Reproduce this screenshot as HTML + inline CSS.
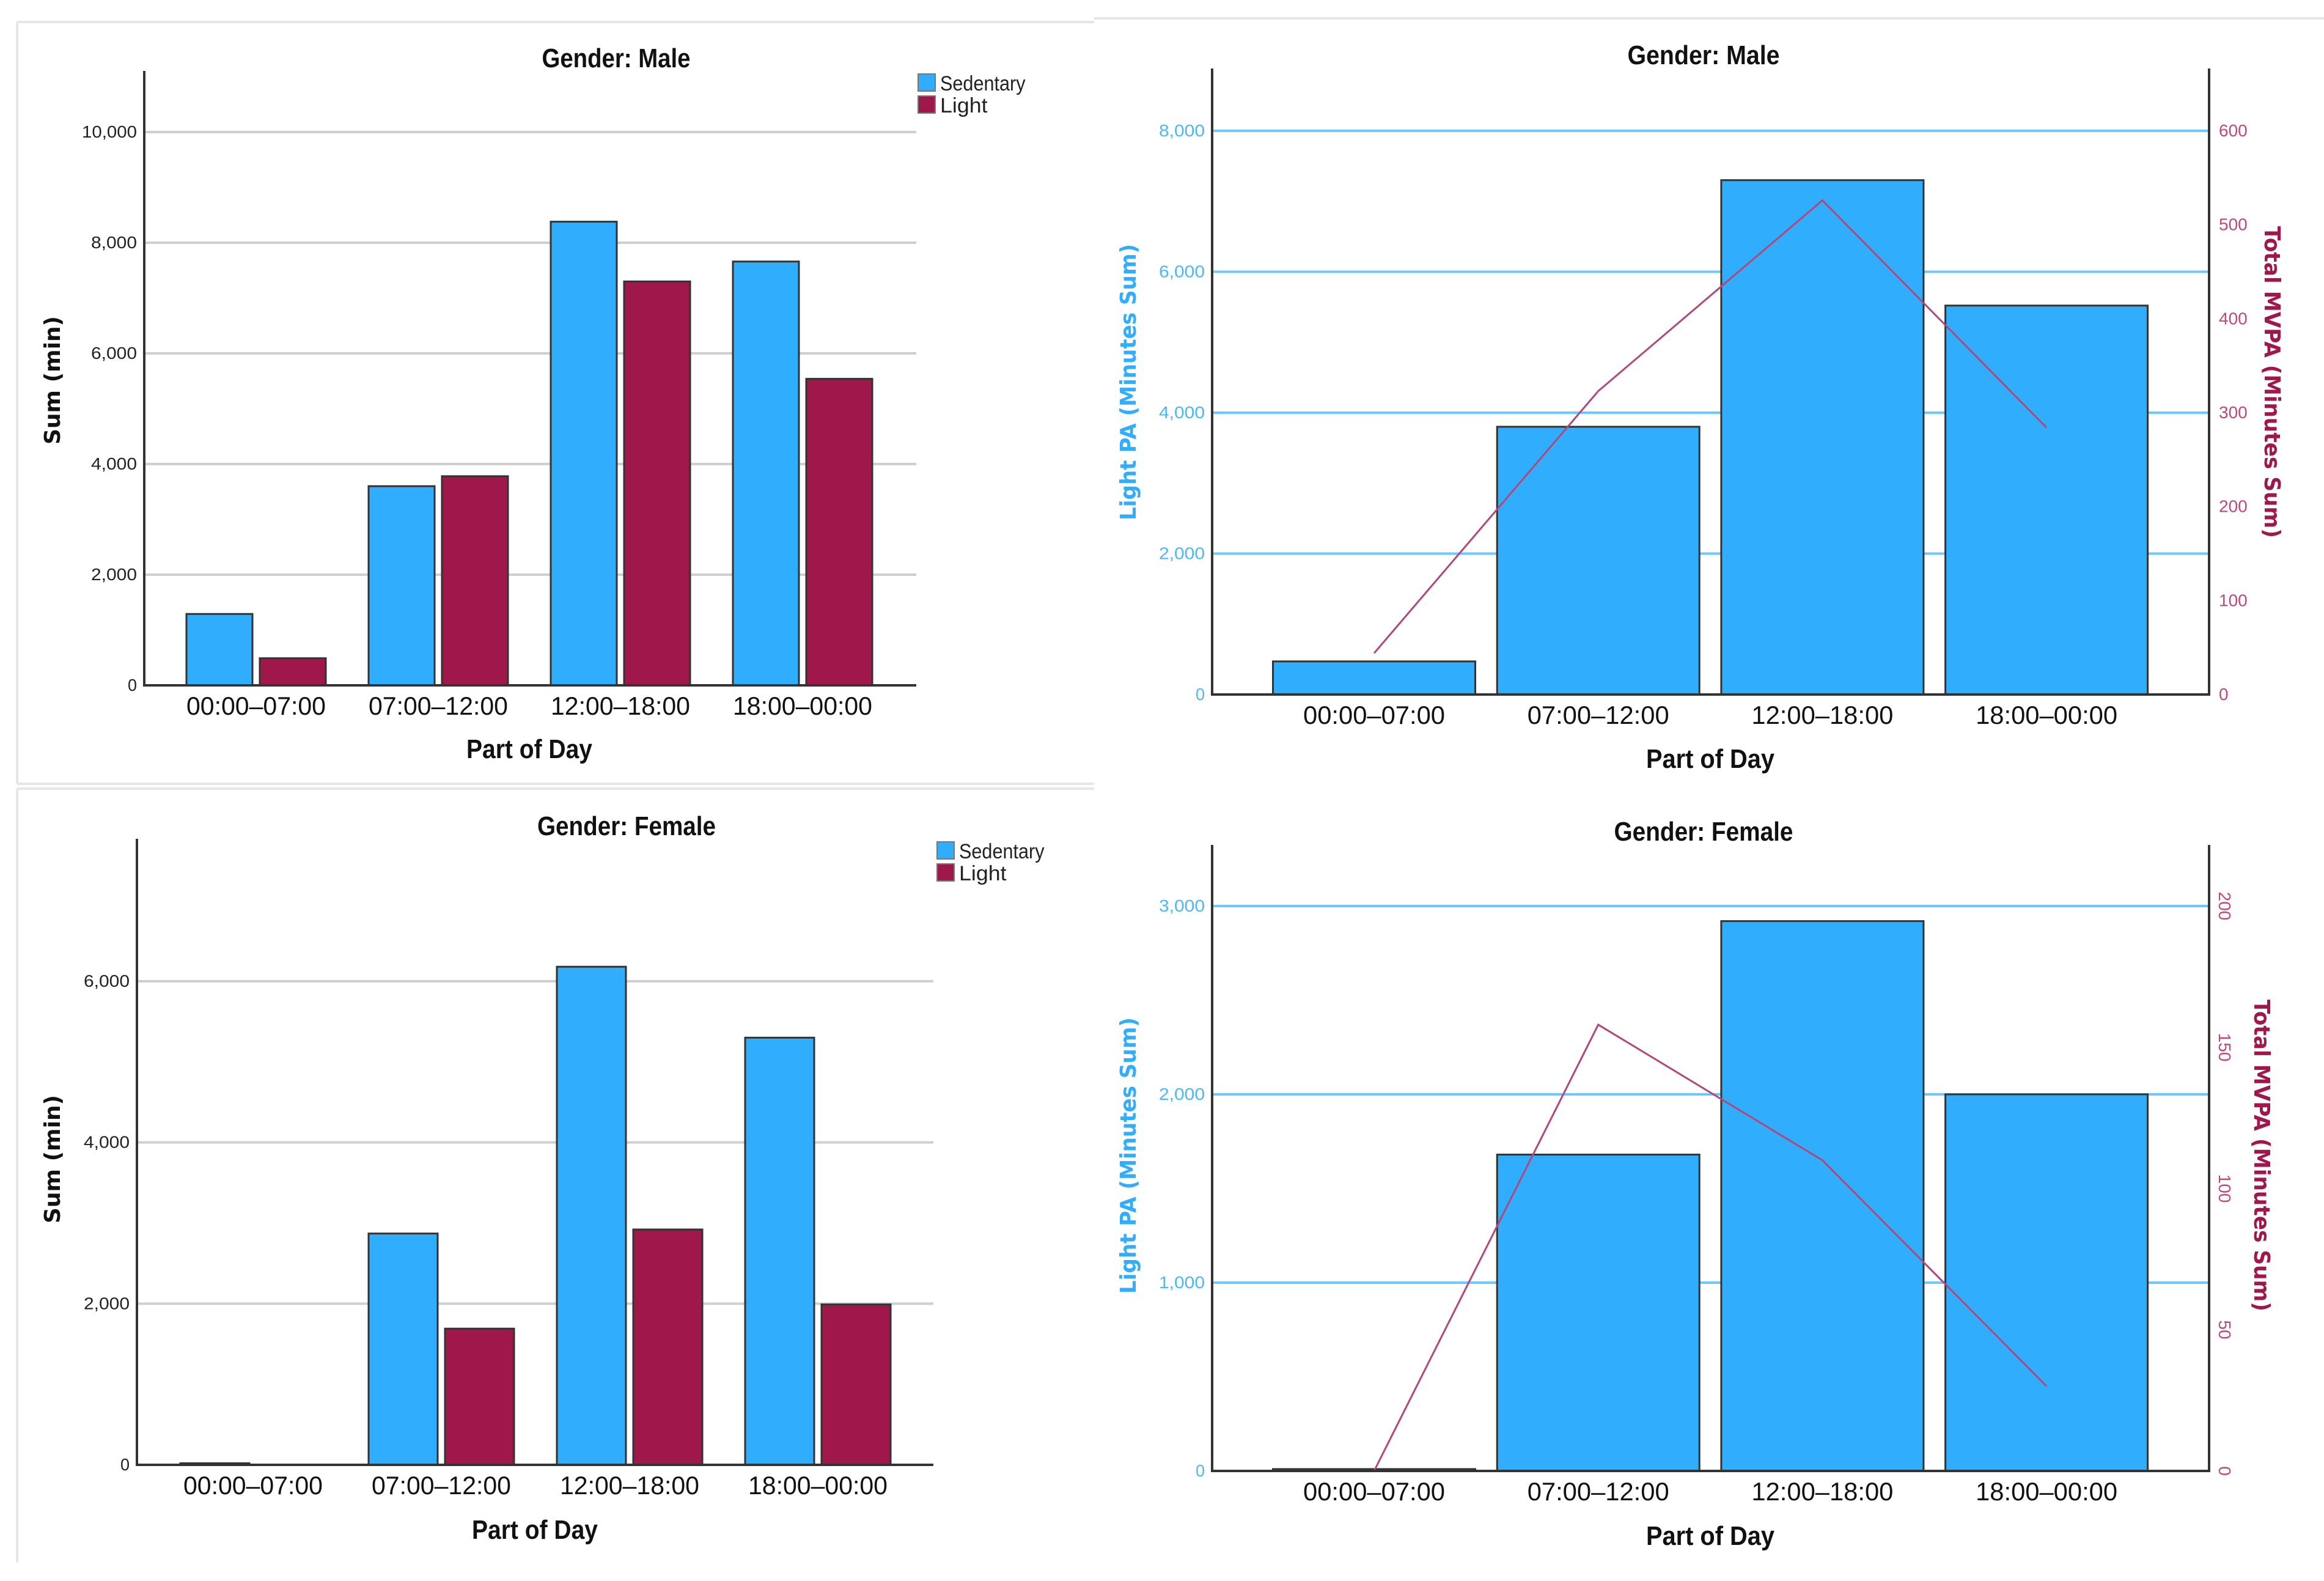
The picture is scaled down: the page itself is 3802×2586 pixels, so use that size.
<!DOCTYPE html>
<html><head><meta charset="utf-8"><style>
html,body{margin:0;padding:0;background:#fff;}
svg{display:block;}
text{font-family:"Liberation Sans Narrow","Liberation Sans",sans-serif;}
.wide{font-family:"DejaVu Sans","Liberation Sans",sans-serif;font-weight:bold;}
</style></head><body>
<svg id="fig" width="3802" height="2586" viewBox="0 0 3802 2586" xmlns="http://www.w3.org/2000/svg">
<g fill="none" stroke="#e6e6e6" stroke-width="4">
<path d="M28 36 H1790 M28 36 V1282 M28 1282 H1790"/>
<path d="M28 1290 H1790 M28 1290 V2556"/>
<path d="M1790 30 H3802"/>
</g>
</svg>
<script>
// ===== data =====
const categories = ["00:00\u201307:00","07:00\u201312:00","12:00\u201318:00","18:00\u201300:00"];
const maleSedentary = [1290, 3600, 8380, 7660];
const maleLight = [490, 3780, 7300, 5540];
const femaleSedentary = [20, 2870, 6180, 5300];
const femaleLight = [0, 1690, 2920, 1990];
const maleLightPA = [470, 3800, 7300, 5520];
const maleMVPA = [44, 323, 526, 284];
const femaleLightPA = [10, 1680, 2920, 2000];
const femaleMVPA = [0, 158, 110, 30];
const maleTicks = [0, 2000, 4000, 6000, 8000, 10000];
const femaleTicks = [0, 2000, 4000, 6000];
const maleLeftTicks = [0, 2000, 4000, 6000, 8000];
const maleRightTicks = [0, 100, 200, 300, 400, 500, 600];
const femaleLeftTicks = [0, 1000, 2000, 3000];
const femaleRightTicks = [0, 50, 100, 150, 200];

const NS = "http://www.w3.org/2000/svg";
const svg = document.getElementById("fig");
const BLUE = "#30aefd", MAROON = "#a0174b";
function mk(tag, attrs, parent, txt) {
  const e = document.createElementNS(NS, tag);
  for (const k in attrs) e.setAttribute(k, attrs[k]);
  if (txt !== undefined) e.textContent = txt;
  (parent || svg).appendChild(e);
  return e;
}
function fmt(v){ return v.toLocaleString("en-US"); }
const SQ = {lengthAdjust:"spacingAndGlyphs"};

function groupedChart(o) {
  const g = mk("g", {});
  
  
  const y = v => o.base - v * o.scale;
  o.ticks.forEach(t => {
    if (t > 0) {
      const gl = mk("line", {x1:o.left, x2:o.right, y1:y(t), y2:y(t), stroke:"#cfcfcf", "stroke-width":4}, g);
      
      
    }
    const s = fmt(t);
    const tl = mk("text", {x:o.left-12, y:y(t)+9, "font-size":28, "text-anchor":"end", fill:"#222", textLength:s.length*15, lengthAdjust:"spacingAndGlyphs"}, g, s);
    
    
  });
  const series = [[o.sed, BLUE, "sedentary"], [o.light, MAROON, "light"]];
  categories.forEach((c, i) => {
    const cx = o.c0 + i * o.pitch;
    series.forEach((s, j) => {
      const v = s[0][i];
      const x = j === 0 ? cx - o.gap/2 - o.bw : cx + o.gap/2;
      if (v > 0) {
        const r = mk("rect", {x:x, y:y(v), width:o.bw, height:o.base - y(v), fill:s[1], stroke:"#333", "stroke-width":3}, g);
        
        
      }
    });
    const xl = mk("text", {x:cx, y:o.base+48, "font-size":42, "text-anchor":"middle", fill:"#111", textLength:228, lengthAdjust:"spacingAndGlyphs"}, g, c);
    
    
  });
  const ax = mk("path", {d:`M${o.left} ${o.top} V${o.base} H${o.right}`, fill:"none", stroke:"#333", "stroke-width":4}, g);
  
  
  const tt = mk("text", {x:o.titleX, y:o.titleY, "font-size":44, "font-weight":"bold", "text-anchor":"middle", fill:"#111", textLength:o.titleW, lengthAdjust:"spacingAndGlyphs"}, g, o.title);
  
  
  const xt = mk("text", {x:o.xtX, y:o.xtY, "font-size":44, "font-weight":"bold", "text-anchor":"middle", fill:"#111", textLength:206, lengthAdjust:"spacingAndGlyphs"}, g, "Part of Day");
  
  
  const yt = mk("text", {x:0, y:0, "font-size":36, "text-anchor":"middle", class:"wide", fill:"#111", transform:`translate(${o.ytX},${o.ytY}) rotate(-90)`}, g, "Sum (min)");
  
  
  [[BLUE, "Sedentary", 0], [MAROON, "Light", 36]].forEach(l => {
    const le = mk("g", {}, g);
    
    
    mk("rect", {x:o.legX, y:o.legY + l[2], width:28, height:28, fill:l[0], stroke:"#777", "stroke-width":2}, le);
    mk("text", {x:o.legX + 36, y:o.legY + l[2] + 27, "font-size":34, fill:"#222", textLength:l[1].length*15.5, lengthAdjust:"spacingAndGlyphs"}, le, l[1]);
  });
}

function dualChart(o) {
  const g = mk("g", {});
  
  
  const yl = v => o.base - v * o.lscale;
  const yr = v => o.base - v * o.rscale;
  o.lticks.forEach(t => {
    if (t > 0) {
      const gl = mk("line", {x1:o.left, x2:o.right, y1:yl(t), y2:yl(t), stroke:"#6cc8ff", "stroke-width":4}, g);
      
      
    }
    const s = fmt(t);
    const tl = mk("text", {x:o.left-12, y:yl(t)+9, "font-size":28, "text-anchor":"end", fill:"#4cb8f8", textLength:s.length*15, lengthAdjust:"spacingAndGlyphs"}, g, s);
    
    
  });
  o.rticks.forEach(t => {
    let tl;
    if (o.rotR) tl = mk("text", {x:0, y:0, "font-size":28, "text-anchor":"middle", fill:"#c0477a", transform:`translate(${o.right+16},${yr(t)}) rotate(90)`}, g, fmt(t));
    else tl = mk("text", {x:o.right+16, y:yr(t)+9, "font-size":28, fill:"#c0477a"}, g, fmt(t));
    
    
  });
  const pts = [];
  categories.forEach((c, i) => {
    const cx = o.c0 + i * o.pitch;
    const v = o.bars[i];
    const r = mk("rect", {x:cx - o.bw/2, y:yl(v), width:o.bw, height:o.base - yl(v), fill:BLUE, stroke:"#333", "stroke-width":3}, g);
    
    
    pts.push(cx + "," + yr(o.line[i]));
    const xl = mk("text", {x:cx, y:o.base+48, "font-size":42, "text-anchor":"middle", fill:"#111", textLength:232, lengthAdjust:"spacingAndGlyphs"}, g, c);
    
    
  });
  const ln = mk("polyline", {points:pts.join(" "), fill:"none", stroke:"#b4477a", "stroke-width":3}, g);
  
  
  const ax = mk("path", {d:`M${o.left} ${o.top} V${o.base} H${o.right} V${o.top}`, fill:"none", stroke:"#333", "stroke-width":4}, g);
  
  
  const tt = mk("text", {x:2787, y:o.titleY, "font-size":44, "font-weight":"bold", "text-anchor":"middle", fill:"#111", textLength:o.titleW, lengthAdjust:"spacingAndGlyphs"}, g, o.title);
  
  
  const xt = mk("text", {x:2798, y:o.xtY, "font-size":44, "font-weight":"bold", "text-anchor":"middle", fill:"#111", textLength:210, lengthAdjust:"spacingAndGlyphs"}, g, "Part of Day");
  
  
  const ly = mk("text", {x:0, y:0, "font-size":36, "text-anchor":"middle", class:"wide", fill:"#30aefd", textLength:452, lengthAdjust:"spacingAndGlyphs", transform:`translate(1858,${o.ltY}) rotate(-90)`}, g, "Light PA (Minutes Sum)");
  
  
  const ry = mk("text", {x:0, y:0, "font-size":36, "text-anchor":"middle", class:"wide", fill:"#a0174b", textLength:510, lengthAdjust:"spacingAndGlyphs", transform:`translate(${o.rtX},${o.rtY}) rotate(90)`}, g, "Total MVPA (Minutes Sum)");
  
  
}

groupedChart({name:"male-grouped-chart", left:236, right:1499, top:116, base:1121, scale:905/10000,
  ticks:maleTicks, sed:maleSedentary, light:maleLight, c0:419, pitch:298, bw:108, gap:12,
  title:"Gender: Male", titleW:243, titleX:1008, titleY:110, xtX:866, xtY:1240, ytX:98, ytY:622, legX:1502, legY:121});
groupedChart({name:"female-grouped-chart", left:224, right:1527, top:1372, base:2396, scale:791/6000,
  ticks:femaleTicks, sed:femaleSedentary, light:femaleLight, c0:414, pitch:308, bw:113, gap:12,
  title:"Gender: Female", titleW:292, titleX:1025, titleY:1366, xtX:875, xtY:2517, ytX:98, ytY:1896, legX:1533, legY:1377});
dualChart({name:"male-dual-axis-chart", left:1983, right:3614, top:112, base:1136, lscale:922/8000, rscale:922/600,
  lticks:maleLeftTicks, rticks:maleRightTicks, bars:maleLightPA, line:maleMVPA, c0:2248, pitch:366.7, bw:331,
  rotR:false, title:"Gender: Male", titleW:249, titleY:105, xtY:1256, ltY:625, rtX:3705, rtY:625});
dualChart({name:"female-dual-axis-chart", left:1983, right:3614, top:1382, base:2406, lscale:924/3000, rscale:924/200,
  lticks:femaleLeftTicks, rticks:femaleRightTicks, bars:femaleLightPA, line:femaleMVPA, c0:2248, pitch:366.7, bw:331,
  rotR:true, title:"Gender: Female", titleW:293, titleY:1375, xtY:2527, ltY:1890, rtX:3688, rtY:1890});
</script>
</body></html>
